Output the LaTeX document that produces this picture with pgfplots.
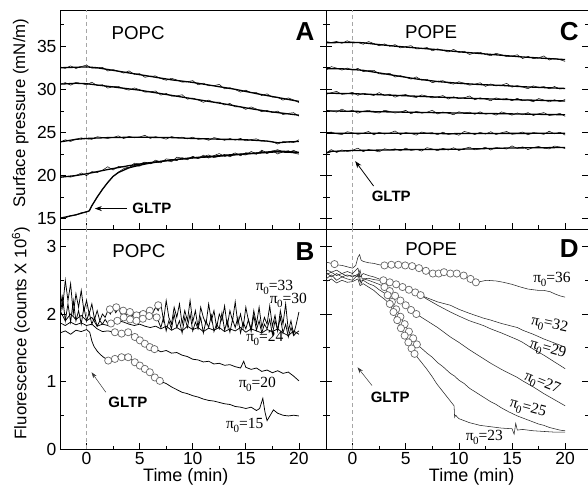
\documentclass[border=0pt]{standalone}
\usepackage{fontspec}
\setmainfont{Liberation Sans}
\newfontfamily\tms{Liberation Serif}
\usepackage{pgfplots}
\pgfplotsset{compat=1.18}
\usetikzlibrary{arrows.meta}
\pgfplotsset{
 panel/.style={scale only axis, axis line style={line width=0.9pt}, tick style={line width=0.7pt, black},
   major tick length=6pt, minor tick length=3.5pt, tick align=inside, xtick pos=bottom, ytick pos=both,
   xtick={0,5,10,15,20}, minor xtick={2.5,7.5,12.5,17.5},
   tick label style={font=\fontsize{17.5}{20}\selectfont},
   /pgf/number format/assume math mode=true, clip mode=individual},
 ptop/.style={panel, height=219pt, ymin=13.8, ymax=39.2, ytick={15,20,25,30,35}, minor ytick={17.5,22.5,27.5,32.5,37.5}, xticklabels={}},
 pbot/.style={panel, height=220pt, ymin=0, ymax=3.26, ytick={0,1,2,3}, minor ytick={0.5,1.5,2.5}},
 pleft/.style={width=266pt, xmin=-2.5, xmax=22.55},
 pright/.style={width=262pt, xmin=-2.5, xmax=22.15, yticklabels={}},
 noisy/.style={black, line width=0.5pt},
 base/.style={black, line width=1.3pt},
 thinl/.style={black!85, line width=0.55pt},
 midl/.style={black, line width=0.75pt},
 circ/.style={only marks, mark=*, mark size=3.6pt, mark options={fill=white, draw=black!60, line width=0.7pt}},
 dashline/.style={gray!70, dash pattern=on 4pt off 3pt, line width=0.7pt},
}
\newcommand{\pl}[1]{{\tms\fontsize{15.5}{17}\selectfont π\kern-0.5pt\raisebox{-0.55ex}{\fontsize{11}{11}\selectfont 0}=#1}}
\tikzset{
 plab/.style={font=\fontsize{18.7}{21}\selectfont},
 letr/.style={font=\fontsize{26}{28}\selectfont\bfseries},
 gltp/.style={font=\fontsize{15}{17}\selectfont\bfseries},
 pin/.style={inner sep=0pt},
}
\begin{document}
\begin{tikzpicture}
\path[use as bounding box] (0pt,0pt) rectangle (588pt,487pt);
% ---------------- A ----------------
\begin{axis}[ptop, pleft, at={(60pt,258pt)}, anchor=south west]
\addplot[dashline] coordinates {(0,13.8) (0,39.2)};
\addplot[base] coordinates {(-2.5,32.5)(0,32.6)(1,32.5)(2,32.3)(4,31.9)(6,31.5)(8,31.1)(10,30.8)(12,30.4)(14,30.0)(16,29.5)(18,29.05)(20,28.6)};
\addplot[noisy] coordinates {(-2.5,32.62)(-2,32.43)(-1.5,32.72)(-1,32.41)(-0.5,32.64)(0,32.81)(0.5,32.45)(1,32.47)(1.5,32.55)(2,32.12)(2.5,32.29)(3,32.1)(3.5,31.88)(4,32.14)(4.5,31.74)(5,31.82)(5.5,31.39)(6,31.53)(6.5,31.55)(7,31.24)(7.5,31.05)(8,31.28)(8.5,31.08)(9,30.83)(9.5,30.88)(10,31.01)(10.5,30.52)(11,30.72)(11.5,30.41)(12,30.43)(12.5,30.57)(13,30.05)(13.5,30.19)(14,29.97)(14.5,29.67)(15,29.9)(15.5,29.62)(16,29.62)(16.5,29.28)(17,29.48)(17.5,29.09)(18,29.08)(18.5,28.74)(19,29.01)(19.5,28.76)(20,28.45)};
\addplot[base] coordinates {(-2.5,30.6)(-1,30.7)(0,30.65)(1,30.5)(3,30.2)(5,29.9)(7,29.5)(10,28.9)(13,28.3)(15,27.85)(17,27.45)(20,27.0)};
\addplot[noisy] coordinates {(-2.5,30.57)(-2,30.78)(-1.5,30.48)(-1,30.79)(-0.5,30.68)(0,30.53)(0.5,30.82)(1,30.44)(1.5,30.54)(2,30.14)(2.5,30.31)(3,30.35)(3.5,30.06)(4,29.9)(4.5,30.16)(5,29.96)(5.5,29.68)(6,29.7)(6.5,29.81)(7,29.32)(7.5,29.52)(8,29.21)(8.5,29.23)(9,29.37)(9.5,28.85)(10,28.99)(10.5,28.77)(11,28.49)(11.5,28.75)(12,28.5)(12.5,28.52)(13,28.18)(13.5,28.36)(14,27.96)(14.5,27.98)(15,27.67)(15.5,27.96)(16,27.71)(16.5,27.4)(17,27.57)(17.5,27.29)(18,27.48)(18.5,27.07)(19,27.21)(19.5,27.29)(20,26.88)};
\addplot[base] coordinates {(-2.5,23.9)(-1,24.2)(0,24.3)(2,24.4)(5,24.45)(8,24.4)(10,24.3)(13,24.2)(15,24.15)(17,24.0)(18,23.8)(19,23.9)(20,23.95)};
\addplot[noisy] coordinates {(-2.5,23.85)(-2,24.15)(-1.5,23.95)(-1,24.22)(-0.5,24.37)(0,24.25)(0.5,24.2)(1,24.5)(1.5,24.42)(2,24.3)(2.5,24.42)(3,24.6)(3.5,24.29)(4,24.55)(4.5,24.38)(5,24.47)(5.5,24.67)(6,24.3)(6.5,24.5)(7,24.39)(7.5,24.22)(8,24.52)(8.5,24.37)(9,24.45)(9.5,24.25)(10,24.45)(10.5,24.2)(11,24.29)(11.5,24.09)(12,24.4)(12.5,24.26)(13,24.08)(13.5,24.3)(14,24.1)(14.5,24.31)(15,24.02)(15.5,24.17)(16,24.26)(16.5,23.98)(17,23.98)(17.5,23.92)(18,23.65)(18.5,23.93)(19,23.9)(19.5,23.83)(20,24.15)};
\addplot[base] coordinates {(-2.5,19.8)(-1,20.0)(0,20.2)(2,20.7)(4,21.15)(6,21.5)(8,21.8)(10,22.05)(12,22.25)(14,22.45)(16,22.6)(18,22.75)(20,22.65)};
\addplot[noisy] coordinates {(-2.5,20.01)(-2,19.92)(-1.5,19.81)(-1,20.0)(-0.5,20.3)(0,19.99)(0.5,20.46)(1,20.35)(1.5,20.62)(2,21.02)(2.5,20.64)(3,21.05)(3.5,21.01)(4,20.9)(4.5,21.43)(5,21.35)(5.5,21.56)(6,21.36)(6.5,21.79)(7,21.55)(7.5,21.76)(8,21.59)(8.5,22.13)(9,22.02)(9.5,21.82)(10,22.19)(10.5,22.0)(11,22.36)(11.5,22.02)(12,22.32)(12.5,22.55)(13,22.21)(13.5,22.36)(14,22.63)(14.5,22.29)(15,22.65)(15.5,22.58)(16,22.46)(16.5,22.93)(17,22.63)(17.5,22.86)(18,22.5)(18.5,22.76)(19,22.88)(19.5,22.61)(20,22.47)};
\addplot[base] coordinates {(-2.5,15.05)(-1,15.45)(0,15.8)(0.25,15.9)(0.5,16.5)(1,17.5)(1.5,18.4)(2,19.2)(2.5,19.9)(3,20.35)(4,20.9)(5,21.2)(6,21.45)(8,21.8)(10,22.05)(12,22.2)(14,22.4)(16,22.6)(18,22.85)(20,22.7)};
\addplot[noisy] coordinates {(-2.5,15.1)(-2,15.08)(-1.5,15.38)(-1,15.4)(-0.5,15.68)(0,15.78)(0.25,15.9)(0.5,16.5)(1,17.5)(1.5,18.4)(2,19.2)(2.5,19.9)(3,20.4)(3.5,20.8)(4,20.9)(4.5,21.17)(5,21.08)(5.5,21.5)(6,21.36)(6.5,21.58)(7,21.47)(7.5,21.93)(8,21.86)(8.5,21.73)(9,22.07)(9.5,21.91)(10,22.23)(10.5,21.95)(11,22.21)(11.5,22.39)(12,22.08)(12.5,22.22)(13,22.45)(13.5,22.17)(14,22.49)(14.5,22.45)(15,22.38)(15.5,22.79)(16,22.54)(16.5,22.8)(17,22.54)(17.5,22.83)(18,23.0)(18.5,22.76)(19,22.65)(19.5,22.93)(20,22.61)};
\node[plab] at (axis cs:4.86,36.56) {POPC};
\node[letr] at (axis cs:20.57,36.65) {A};
\node[gltp] at (axis cs:6.15,16.2) {GLTP};
\draw[-{Stealth[length=7pt,width=5pt]}, line width=0.8pt] (axis cs:3.77,16.17) -- (axis cs:0.78,16.17);
\node[rotate=90, font=\fontsize{16.8}{19}\selectfont] at (rel axis cs:-0.147,0.53) {Surface pressure (mN/m)};
\end{axis}
% ---------------- C ----------------
\begin{axis}[ptop, pright, at={(326pt,258pt)}, anchor=south west]
\addplot[dashline] coordinates {(0,13.8) (0,39.2)};
\addplot[base] coordinates {(-2.5,35.4)(0,35.45)(1,35.4)(2,35.25)(4,35.0)(6,34.8)(8,34.6)(10,34.35)(12,34.15)(14,33.95)(16,33.75)(18,33.6)(20,33.45)};
\addplot[noisy] coordinates {(-2.5,35.55)(-2,35.42)(-1.5,35.55)(-1,35.33)(-0.5,35.63)(0,35.36)(0.5,35.46)(1,35.22)(1.5,35.54)(2,35.31)(2.5,35.05)(3,35.27)(3.5,34.99)(4,35.18)(4.5,34.8)(5,34.96)(5.5,35.06)(6,34.68)(6.5,34.72)(7,34.85)(7.5,34.47)(8,34.69)(8.5,34.52)(9,34.33)(9.5,34.64)(10,34.29)(10.5,34.42)(11,34.04)(11.5,34.23)(12,34.3)(12.5,34.04)(13,33.9)(13.5,34.18)(14,34.01)(14.5,33.78)(15,33.85)(15.5,34.01)(16,33.57)(16.5,33.82)(17,33.56)(17.5,33.65)(18,33.87)(18.5,33.4)(19,33.59)(19.5,33.44)(20,33.24)};
\addplot[base] coordinates {(-2.5,32.4)(-1,32.38)(0,32.3)(1,32.2)(2,32.0)(4,31.6)(6,31.2)(8,30.9)(10,30.7)(12,30.55)(14,30.45)(16,30.3)(18,30.2)(20,30.1)};
\addplot[noisy] coordinates {(-2.5,32.22)(-2,32.63)(-1.5,32.46)(-1,32.23)(-0.5,32.47)(0,32.21)(0.5,32.43)(1,32.05)(1.5,32.16)(2,32.21)(2.5,31.78)(3,31.77)(3.5,31.85)(4,31.42)(4.5,31.59)(5,31.4)(5.5,31.18)(6,31.44)(6.5,31.06)(7,31.17)(7.5,30.77)(8,30.93)(8.5,31.0)(9,30.74)(9.5,30.6)(10,30.88)(10.5,30.71)(11,30.48)(11.5,30.58)(12,30.76)(12.5,30.34)(13,30.62)(13.5,30.39)(14,30.48)(14.5,30.69)(15,30.25)(15.5,30.44)(16,30.27)(16.5,30.07)(17,30.4)(17.5,30.22)(18,30.32)(18.5,30.06)(19,30.33)(19.5,30.03)(20,30.13)};
\addplot[base] coordinates {(-2.5,29.55)(0,29.5)(5,29.25)(10,29.0)(15,28.8)(20,28.65)};
\addplot[noisy] coordinates {(-2.5,29.4)(-2,29.61)(-1.5,29.76)(-1,29.41)(-0.5,29.49)(0,29.65)(0.5,29.3)(1,29.54)(1.5,29.43)(2,29.28)(2.5,29.62)(3,29.29)(3.5,29.44)(4,29.09)(4.5,29.31)(5,29.4)(5.5,29.16)(6,29.05)(6.5,29.35)(7,29.21)(7.5,29.0)(8,29.1)(8.5,29.28)(9,28.87)(9.5,29.14)(10,28.91)(10.5,29.01)(11,29.23)(11.5,28.79)(12,29.01)(12.5,28.87)(13,28.67)(13.5,29.01)(14,28.84)(14.5,28.94)(15,28.68)(15.5,28.96)(16,28.67)(16.5,28.77)(17,28.55)(17.5,28.93)(18,28.76)(18.5,28.54)(19,28.8)(19.5,28.57)(20,28.83)};
\addplot[base] coordinates {(-2.5,27.5)(5,27.35)(10,27.25)(15,27.15)(20,27.05)};
\addplot[noisy] coordinates {(-2.5,27.59)(-2,27.49)(-1.5,27.36)(-1,27.71)(-0.5,27.4)(0,27.57)(0.5,27.23)(1,27.46)(1.5,27.57)(2,27.35)(2.5,27.25)(3,27.57)(3.5,27.44)(4,27.25)(4.5,27.36)(5,27.56)(5.5,27.16)(6,27.45)(6.5,27.23)(7,27.34)(7.5,27.57)(8,27.14)(8.5,27.37)(9,27.24)(9.5,27.05)(10,27.4)(10.5,27.24)(11,27.35)(11.5,27.1)(12,27.39)(12.5,27.11)(13,27.22)(13.5,27.0)(14,27.38)(14.5,27.22)(15,27.0)(15.5,27.26)(16,27.04)(16.5,27.3)(17,26.96)(17.5,27.16)(18,27.3)(18.5,26.96)(19,27.04)(19.5,27.21)(20,26.87)};
\addplot[base] coordinates {(-2.5,24.9)(7,24.9)(9,24.85)(11,24.88)(20,24.9)};
\addplot[noisy] coordinates {(-2.5,24.93)(-2,25.05)(-1.5,24.84)(-1,24.75)(-0.5,25.08)(0,24.96)(0.5,24.78)(1,24.9)(1.5,25.11)(2,24.72)(2.5,25.02)(3,24.81)(3.5,24.93)(4,25.17)(4.5,24.75)(5,24.99)(5.5,24.87)(6,24.69)(6.5,25.05)(7,24.9)(7.5,24.97)(8,24.73)(8.5,25.03)(9,24.76)(9.5,24.88)(10,24.67)(10.5,25.11)(11,24.96)(11.5,24.75)(12,25.02)(12.5,24.81)(13,25.08)(13.5,24.75)(14,24.96)(14.5,25.11)(15,24.78)(15.5,24.87)(16,25.05)(16.5,24.72)(17,24.99)(17.5,24.9)(18,24.78)(18.5,25.14)(19,24.84)(19.5,25.02)(20,24.69)};
\addplot[base] coordinates {(-2.5,22.6)(-2,22.8)(0,22.9)(5,23.0)(10,23.05)(15,23.2)(20,23.25)};
\addplot[noisy] coordinates {(-2.5,22.6)(-2,23.01)(-1.5,22.67)(-1,22.97)(-0.5,22.79)(0,22.93)(0.5,23.18)(1,22.77)(1.5,23.02)(2,22.91)(2.5,22.74)(3,23.11)(3.5,22.97)(4,23.1)(4.5,22.87)(5,23.18)(5.5,22.92)(6,23.04)(6.5,22.84)(7,23.23)(7.5,23.09)(8,22.88)(8.5,23.16)(9,22.95)(9.5,23.23)(10,22.9)(10.5,23.13)(11,23.29)(11.5,22.98)(12,23.08)(12.5,23.28)(13,22.96)(13.5,23.25)(14,23.17)(14.5,23.07)(15,23.44)(15.5,23.15)(16,23.33)(16.5,23.01)(17,23.25)(17.5,23.38)(18,23.17)(18.5,23.09)(19,23.42)(19.5,23.31)(20,23.13)};
\node[plab] at (axis cs:7.39,36.65) {POPE};
\node[letr] at (axis cs:20.39,36.73) {C};
\node[gltp] at (axis cs:3.64,17.64) {GLTP};
\draw[-{Stealth[length=7pt,width=5pt]}, line width=0.8pt] (axis cs:1.98,18.78) -- (axis cs:0.25,21.67);
\end{axis}
% ---------------- B ----------------
\begin{axis}[pbot, pleft, at={(60pt,38pt)}, anchor=south west]
\addplot[dashline] coordinates {(0,0) (0,3.26)};
\addplot[midl] coordinates {(-2.5,2.35)(-2.25,2.1)(-2,2.5)(-1.75,2.2)(-1.5,2.45)(-1.25,2.0)(-1,2.3)(-0.75,2.1)(-0.5,2.35)(-0.25,2.05)(0,2.2)(0.25,2.0)(0.5,2.15)(0.75,1.92)(1,2.05)(1.25,1.9)(1.5,2.0)(1.75,1.95)(2,2.05)(2.25,2.0)(2.5,2.1)(2.75,2.02)(3,2.08)(3.25,2.0)(3.5,2.06)(3.75,1.98)(4,2.04)(4.25,1.96)(4.5,2.02)(4.75,1.95)(5,2.02)(5.25,1.96)(5.5,2.04)(5.75,2.0)(6,2.08)(6.25,2.02)(6.5,2.1)(6.75,2.05)(7,2.15)(7.25,1.9)(7.5,2.2)(7.75,1.95)(8,1.85)(8.25,2.1)(8.5,1.95)(8.75,2.15)(9,1.85)(9.25,2.05)(9.5,1.9)(9.75,2.2)(10,1.88)(10.25,2.05)(10.5,1.8)(10.75,2.1)(11,1.95)(11.25,1.85)(11.5,2.15)(11.75,1.9)(12,2.05)(12.25,1.8)(12.5,2.0)(12.75,1.9)(13,2.12)(13.25,1.82)(13.5,2.05)(13.75,1.9)(14,2.18)(14.25,1.85)(14.5,2.0)(14.75,1.8)(15,2.1)(15.25,1.9)(15.5,1.78)(15.75,2.05)(16,1.85)(16.25,2.1)(16.5,1.8)(16.75,1.95)(17,1.85)(17.25,2.12)(17.5,1.82)(17.75,1.98)(18,1.75)(18.25,2.05)(18.5,1.85)(18.75,2.15)(19,1.75)(19.25,1.9)(19.5,1.7)(19.75,1.85)(20,2.03)};
\addplot[midl] coordinates {(-2.5,1.95)(-2.25,2.25)(-2,1.9)(-1.75,2.15)(-1.5,1.88)(-1.25,2.2)(-1,1.9)(-0.75,2.05)(-0.5,1.85)(-0.25,2.1)(0,1.9)(0.25,2.02)(0.5,1.85)(0.75,1.95)(1,1.82)(1.25,1.9)(1.5,1.85)(1.75,1.92)(2,1.86)(2.25,1.9)(2.5,1.88)(2.75,1.92)(3,1.9)(3.25,1.95)(3.5,1.92)(3.75,1.96)(4,1.9)(4.25,1.94)(4.5,1.9)(4.75,1.93)(5,1.92)(5.25,1.95)(5.5,1.94)(5.75,1.98)(6,1.95)(6.25,1.99)(6.5,1.93)(6.75,1.9)(7,1.8)(7.25,1.95)(7.5,1.75)(7.75,1.9)(8,1.78)(8.25,2.0)(8.5,1.8)(8.75,1.9)(9,1.72)(9.25,1.95)(9.5,1.8)(9.75,2.0)(10,1.75)(10.25,1.88)(10.5,1.78)(10.75,1.95)(11,1.72)(11.25,1.9)(11.5,1.8)(11.75,1.98)(12,1.74)(12.25,1.85)(12.5,1.78)(12.75,2.02)(13,1.76)(13.25,1.9)(13.5,1.73)(13.75,1.92)(14,1.8)(14.25,1.95)(14.5,1.72)(14.75,1.88)(15,1.78)(15.25,1.92)(15.5,1.74)(15.75,1.98)(16,1.76)(16.25,1.9)(16.5,1.72)(16.75,1.85)(17,1.78)(17.25,1.92)(17.5,1.7)(17.75,1.9)(18,1.76)(18.25,1.95)(18.5,1.72)(18.75,1.85)(19,1.66)(19.25,1.8)(19.5,1.68)(19.75,1.72)(20,1.75)};
\addplot[midl] coordinates {(-2.5,2.05)(-2,1.9)(-1.5,2.0)(-1,1.92)(-0.5,1.98)(0,1.9)(0.5,1.95)(1,1.82)(1.5,1.85)(2,1.83)(2.5,1.85)(3,1.9)(3.5,1.88)(4,1.85)(4.5,1.83)(5,1.85)(5.5,1.82)(6,1.8)(6.5,1.82)(7,1.78)(7.5,1.82)(8,1.76)(8.5,1.8)(9,1.75)(9.5,1.82)(10,1.77)(10.5,1.8)(11,1.74)(11.5,1.79)(12,1.76)(12.5,1.8)(13,1.74)(13.5,1.78)(14,1.75)(14.5,1.8)(15,1.73)(15.5,1.78)(16,1.75)(16.5,1.72)(17,1.77)(17.5,1.74)(18,1.78)(18.5,1.72)(19,1.68)(19.5,1.75)(20,1.7)};
\addplot[midl] coordinates {(-2.5,1.87)(-2,1.83)(-1.5,1.88)(-1,1.84)(-0.5,1.87)(0,1.83)(0.5,1.85)(1,1.78)(1.5,1.74)(2,1.75)(2.7,1.73)(3.3,1.71)(3.9,1.73)(4.5,1.66)(5,1.61)(5.5,1.56)(6,1.51)(6.5,1.48)(7,1.44)(7.5,1.46)(8,1.42)(8.5,1.43)(9,1.39)(9.5,1.37)(10,1.33)(10.5,1.32)(11,1.29)(11.5,1.3)(12,1.26)(12.5,1.27)(13,1.24)(13.5,1.25)(14,1.22)(14.5,1.2)(14.8,1.3)(15,1.21)(15.5,1.18)(16,1.2)(16.5,1.15)(17,1.17)(17.5,1.13)(18,1.16)(18.5,1.12)(19,1.14)(19.5,1.08)(20,1.01)};
\addplot[midl] coordinates {(-2.5,1.72)(-2,1.75)(-1.5,1.7)(-1,1.76)(-0.5,1.74)(0,1.77)(0.3,1.73)(0.5,1.6)(0.7,1.52)(1,1.45)(1.3,1.4)(1.6,1.36)(2,1.32)(2.5,1.33)(3,1.35)(3.5,1.36)(4,1.35)(4.5,1.29)(5,1.24)(5.5,1.19)(6,1.14)(6.5,1.06)(7,1.0)(7.5,0.97)(8,0.92)(8.5,0.88)(9,0.84)(9.5,0.82)(10,0.79)(10.5,0.77)(11,0.74)(11.5,0.72)(12,0.71)(12.5,0.69)(13,0.67)(13.5,0.66)(14,0.63)(14.5,0.62)(15,0.6)(15.5,0.62)(16,0.57)(16.3,0.6)(16.6,0.75)(16.8,0.55)(17,0.42)(17.3,0.5)(17.6,0.58)(18,0.53)(18.5,0.5)(19,0.49)(19.5,0.5)(20,0.49)};
\addplot[circ] coordinates {(2.2,2.07)(2.8,2.10)(3.45,2.05)(4.08,2.03)(4.71,1.98)(5.33,2.0)(5.96,2.05)(6.75,2.13)};
\addplot[circ] coordinates {(2.3,1.86)(2.9,1.9)(3.5,1.95)(4.1,1.92)(4.7,1.9)(5.3,1.93)(5.9,1.97)(6.6,1.95)};
\addplot[circ] coordinates {(2.67,1.73)(3.3,1.71)(3.92,1.73)(4.55,1.66)(5.02,1.61)(5.49,1.56)(5.96,1.51)(6.4,1.48)};
\addplot[circ] coordinates {(2.04,1.31)(2.67,1.335)(3.3,1.36)(3.92,1.36)(4.55,1.285)(5.02,1.236)(5.49,1.187)(5.96,1.137)(6.43,1.06)(6.9,1.01)};
\node[plab] at (axis cs:4.93,2.935) {POPC};
\node[letr] at (axis cs:20.57,2.93) {B};
\node[gltp] at (axis cs:3.89,0.694) {GLTP};
\draw[-{Stealth[length=6pt,width=4pt]}, line width=0.5pt, black!80] (axis cs:1.82,0.84) -- (axis cs:0.47,1.137);
\node[pin] at (axis cs:17.7,2.40) {\pl{33}};
\node[pin] at (axis cs:19.0,2.20) {\pl{30}};
\node[pin] at (axis cs:16.8,1.64) {\pl{24}};
\node[pin] at (axis cs:16.09,0.954) {\pl{20}};
\node[pin] at (axis cs:14.9,0.346) {\pl{15}};
\node[rotate=90, font=\fontsize{16.8}{19}\selectfont] at (rel axis cs:-0.147,0.527) {Fluorescence (counts X 10\textsuperscript{6})};
\node[font=\fontsize{18}{20}\selectfont] at (axis cs:9.35,-0.41) {Time (min)};
\end{axis}
% ---------------- D ----------------
\begin{axis}[pbot, pright, at={(326pt,38pt)}, anchor=south west]
\addplot[dashline] coordinates {(0,0) (0,3.26)};
\addplot[thinl] coordinates {(-2.5,2.77)(-2,2.75)(-1.5,2.73)(-1,2.72)(-0.5,2.7)(0,2.68)(0.3,2.72)(0.5,2.84)(0.66,2.88)(0.8,2.8)(1.0,2.78)(1.5,2.76)(2.0,2.75)(2.5,2.73)(3.0,2.72)(5,2.72)(6.2,2.68)(7.5,2.6)(9,2.61)(10.5,2.57)(11.5,2.48)(12,2.48)(12.6,2.5)(13.5,2.49)(14.2,2.47)(15,2.44)(15.8,2.40)(16.5,2.37)(17,2.36)(17.5,2.35)(18,2.35)(18.6,2.33)(19,2.30)(19.5,2.27)(20,2.25)};
\addplot[thinl] coordinates {(-2.5,2.66)(-2,2.62)(-1.5,2.65)(-1,2.6)(-0.5,2.63)(0,2.6)(0.5,2.68)(0.7,2.55)(1,2.6)(1.5,2.57)(2,2.55)(2.5,2.52)(2.9,2.50)(4,2.44)(5,2.38)(6.4,2.28)(7,2.24)(8,2.18)(9.2,2.13)(10,2.07)(11,2.01)(12.3,1.94)(13,1.91)(14,1.86)(15.5,1.80)(16,1.76)(17,1.70)(18,1.63)(19,1.57)(20,1.51)};
\addplot[thinl] coordinates {(-2.5,2.58)(-2,2.62)(-1.5,2.57)(-1,2.6)(-0.5,2.56)(0,2.58)(0.5,2.55)(0.7,2.65)(0.9,2.52)(1.5,2.53)(2,2.51)(2.5,2.5)(2.9,2.5)(4,2.43)(5,2.37)(6.4,2.28)(7,2.22)(8,2.13)(9.2,2.03)(10,1.97)(11,1.9)(12.3,1.83)(13,1.78)(14,1.72)(15.5,1.62)(16,1.58)(17,1.48)(18,1.39)(19,1.29)(20,1.19)};
\addplot[thinl] coordinates {(-2.5,2.62)(-2,2.55)(-1.5,2.6)(-1,2.55)(-0.5,2.58)(0,2.55)(0.6,2.6)(0.8,2.45)(1,2.52)(1.5,2.5)(2,2.47)(2.5,2.44)(3.0,2.40)(4,2.27)(5,2.13)(6,2.0)(7,1.9)(8,1.8)(9.2,1.66)(10,1.58)(11,1.47)(12.3,1.34)(13,1.27)(14,1.18)(15.5,1.06)(16,1.01)(17,0.92)(18,0.82)(19,0.73)(20,0.64)};
\addplot[thinl] coordinates {(-2.5,2.52)(-2,2.58)(-1.5,2.5)(-1,2.55)(-0.5,2.52)(0,2.5)(0.5,2.58)(0.7,2.48)(1,2.5)(1.5,2.45)(2,2.42)(2.5,2.36)(3.0,2.31)(3.3,2.28)(4.1,2.07)(5.3,1.74)(6.05,1.55)(6.5,1.49)(7,1.42)(7.5,1.36)(8,1.28)(8.5,1.22)(9.2,1.12)(9.6,1.08)(10,1.02)(10.5,0.97)(11,0.90)(11.6,0.84)(12.3,0.77)(13,0.70)(13.5,0.66)(14,0.61)(14.7,0.55)(15.5,0.49)(16,0.46)(16.5,0.43)(17,0.40)(17.5,0.37)(18,0.35)(18.5,0.32)(19,0.30)(19.5,0.28)(20,0.27)};
\addplot[thinl] coordinates {(-2.5,2.48)(-2,2.52)(-1.5,2.46)(-1,2.5)(-0.5,2.47)(0,2.48)(0.5,2.52)(0.7,2.42)(1,2.45)(1.5,2.4)(2,2.35)(2.5,2.28)(3,2.22)(3.5,2.15)(4.55,1.79)(5.83,1.41)(6.5,1.28)(7,1.18)(7.5,1.07)(7.9,0.97)(8.5,0.85)(9,0.75)(9.55,0.64)(9.6,0.47)(9.7,0.5)(10,0.45)(10.5,0.42)(11,0.39)(12,0.35)(13,0.33)(14,0.31)(15,0.30)(15.2,0.22)(15.35,0.38)(15.5,0.28)(16,0.29)(17,0.27)(18,0.26)(19,0.25)(20,0.25)};
\addplot[circ] coordinates {(-1.7,2.74)(3.0,2.72)(3.65,2.73)(4.3,2.73)(4.95,2.72)(5.6,2.71)(6.25,2.68)(6.9,2.64)(7.55,2.6)(8.1,2.6)(8.6,2.62)(9.2,2.6)(9.8,2.6)(10.45,2.57)(11.1,2.52)(11.6,2.47)};
\addplot[circ] coordinates {(2.9,2.50)(3.5,2.47)(4.1,2.44)(4.7,2.40)(5.3,2.36)(5.9,2.32)(6.4,2.28)};
\addplot[circ] coordinates {(3.0,2.40)(3.5,2.34)(4.0,2.27)(4.5,2.20)(5.0,2.13)(5.5,2.06)(6.0,2.0)};
\addplot[circ] coordinates {(3.3,2.28)(3.7,2.18)(4.1,2.07)(4.5,1.96)(4.9,1.85)(5.3,1.74)(5.7,1.64)(6.05,1.55)};
\addplot[circ] coordinates {(3.5,2.15)(3.85,2.03)(4.2,1.91)(4.55,1.79)(4.9,1.68)(5.25,1.58)(5.55,1.49)(5.83,1.41)};
\node[plab] at (axis cs:7.4,2.957) {POPE};
\node[letr] at (axis cs:20.39,2.97) {D};
\node[gltp] at (axis cs:3.54,0.769) {GLTP};
\draw[-{Stealth[length=6pt,width=4pt]}, line width=0.5pt, black!80] (axis cs:1.83,0.94) -- (axis cs:0.47,1.21);
\node[pin] at (axis cs:18.76,2.51) {\pl{36}};
\node[pin, rotate=-12] at (axis cs:18.52,1.84) {\pl{32}};
\node[pin, rotate=-16] at (axis cs:18.36,1.47) {\pl{29}};
\node[pin, rotate=-22] at (axis cs:17.82,0.97) {\pl{27}};
\node[pin, rotate=-15] at (axis cs:16.48,0.60) {\pl{25}};
\node[pin] at (axis cs:12.4,0.17) {\pl{23}};
\node[font=\fontsize{18}{20}\selectfont] at (axis cs:11.2,-0.41) {Time (min)};
\end{axis}
\end{tikzpicture}
\end{document}
